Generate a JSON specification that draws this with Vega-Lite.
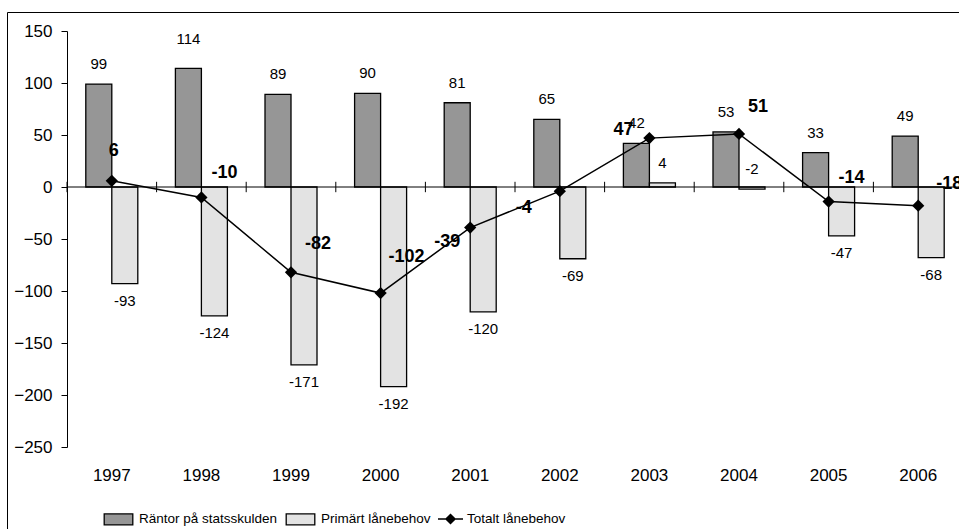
{
  "$schema": "https://vega.github.io/schema/vega-lite/v6.json",
  "width": 960,
  "height": 523,
  "autosize": {"type": "none"},
  "padding": {"left": 7, "top": 12, "right": -8, "bottom": -6},
  "background": "white",
  "config": {
    "view": {"stroke": "black", "strokeWidth": 1},
    "font": "Liberation Sans",
    "axis": {"labelFont": "Liberation Sans", "labelColor": "black", "domainColor": "black", "tickColor": "black", "grid": false, "title": null},
    "text": {"font": "Liberation Sans", "color": "black"}
  },
  "datasets": {
    "bars": [
      {"year": "1997", "series": "Räntor på statsskulden", "value": 99},
      {"year": "1997", "series": "Primärt lånebehov", "value": -93},
      {"year": "1998", "series": "Räntor på statsskulden", "value": 114},
      {"year": "1998", "series": "Primärt lånebehov", "value": -124},
      {"year": "1999", "series": "Räntor på statsskulden", "value": 89},
      {"year": "1999", "series": "Primärt lånebehov", "value": -171},
      {"year": "2000", "series": "Räntor på statsskulden", "value": 90},
      {"year": "2000", "series": "Primärt lånebehov", "value": -192},
      {"year": "2001", "series": "Räntor på statsskulden", "value": 81},
      {"year": "2001", "series": "Primärt lånebehov", "value": -120},
      {"year": "2002", "series": "Räntor på statsskulden", "value": 65},
      {"year": "2002", "series": "Primärt lånebehov", "value": -69},
      {"year": "2003", "series": "Räntor på statsskulden", "value": 42},
      {"year": "2003", "series": "Primärt lånebehov", "value": 4},
      {"year": "2004", "series": "Räntor på statsskulden", "value": 53},
      {"year": "2004", "series": "Primärt lånebehov", "value": -2},
      {"year": "2005", "series": "Räntor på statsskulden", "value": 33},
      {"year": "2005", "series": "Primärt lånebehov", "value": -47},
      {"year": "2006", "series": "Räntor på statsskulden", "value": 49},
      {"year": "2006", "series": "Primärt lånebehov", "value": -68}
    ],
    "total": [
      {"year": "1997", "series": "Totalt lånebehov", "total": 6},
      {"year": "1998", "series": "Totalt lånebehov", "total": -10},
      {"year": "1999", "series": "Totalt lånebehov", "total": -82},
      {"year": "2000", "series": "Totalt lånebehov", "total": -102},
      {"year": "2001", "series": "Totalt lånebehov", "total": -39},
      {"year": "2002", "series": "Totalt lånebehov", "total": -4},
      {"year": "2003", "series": "Totalt lånebehov", "total": 47},
      {"year": "2004", "series": "Totalt lånebehov", "total": 51},
      {"year": "2005", "series": "Totalt lånebehov", "total": -14},
      {"year": "2006", "series": "Totalt lånebehov", "total": -18}
    ]
  },
  "layer": [
    {
      "data": {"name": "bars"},
      "mark": {"type": "bar", "stroke": "black", "strokeWidth": 1.3},
      "encoding": {
        "x": {
          "field": "year", "type": "nominal",
          "scale": {"range": [60, 956], "paddingInner": 0, "paddingOuter": 0},
          "axis": {"orient": "bottom", "offset": -68, "domain": false, "ticks": false, "labelPadding": 0, "labelAngle": 0, "labelFontSize": 17, "labelBaseline": "top"}
        },
        "xOffset": {
          "field": "series", "type": "nominal",
          "scale": {"domain": ["Räntor på statsskulden", "Primärt lånebehov"], "paddingInner": 0, "paddingOuter": 0.723}
        },
        "y": {
          "field": "value", "type": "quantitative",
          "scale": {"domain": [-250, 150], "range": [435, 19], "nice": false, "zero": false},
          "axis": {
            "orient": "left", "offset": -60, "values": [-250, -200, -150, -100, -50, 0, 50, 100, 150], "tickSize": 6, "labelFontSize": 17, "labelPadding": 9,
            "encode": {"ticks": {"update": {"x": {"value": 5}}}}
          }
        },
        "fill": {
          "field": "series", "type": "nominal",
          "scale": {"domain": ["Räntor på statsskulden", "Primärt lånebehov"], "range": ["#969696", "#e3e3e3"]},
          "legend": {
            "orient": "none", "legendX": 99.5, "legendY": 495, "direction": "horizontal", "title": null, "padding": 0,
            "symbolType": "M-1.3,-0.5H1.3V0.5H-1.3Z", "symbolSize": 484, "symbolStrokeColor": "black", "symbolStrokeWidth": 1.3,
            "labelFont": "Liberation Sans", "labelFontSize": 13.5, "labelLimit": 400, "labelColor": "black", "labelOffset": 8.5, "columnPadding": 6
          }
        }
      }
    },
    {
      "data": {"name": "total"},
      "mark": {"type": "rule", "color": "black", "strokeWidth": 1},
      "encoding": {
        "x": {"field": "year", "type": "nominal", "bandPosition": 0},
        "x2": {"field": "year", "bandPosition": 1},
        "y": {"datum": 0}
      }
    },
    {
      "data": {"name": "total"},
      "mark": {"type": "rule", "color": "black", "strokeWidth": 1},
      "encoding": {
        "x": {"field": "year", "type": "nominal", "bandPosition": 0},
        "y": {"datum": -5},
        "y2": {"datum": 5}
      }
    },
    {
      "data": {"name": "total"},
      "mark": {"type": "line", "strokeWidth": 1.5},
      "encoding": {
        "x": {"field": "year", "type": "nominal"},
        "y": {"field": "total", "type": "quantitative"},
        "stroke": {
          "field": "series", "type": "nominal",
          "scale": {"domain": ["Totalt lånebehov"], "range": ["black"]},
          "legend": {
            "orient": "none", "legendX": 432.5, "legendY": 496, "title": null, "padding": 0,
            "symbolType": "M-1.25,0H1.25M0,-0.45L0.45,0L0,0.45L-0.45,0Z", "symbolSize": 400, "symbolStrokeWidth": 1.5, "symbolFillColor": "black", "symbolStrokeColor": "black",
            "labelFont": "Liberation Sans", "labelFontSize": 13.5, "labelLimit": 400, "labelColor": "black", "labelOffset": 5.5
          }
        }
      }
    },
    {
      "data": {"name": "total"},
      "mark": {"type": "point", "shape": "diamond", "filled": true, "size": 150, "color": "black", "opacity": 1},
      "encoding": {
        "x": {"field": "year", "type": "nominal"},
        "y": {"field": "total", "type": "quantitative"}
      }
    },
    {
      "data": {"name": "bars"},
      "transform": [{"filter": "datum.value >= -5 && datum.value != 114"}],
      "mark": {"type": "text", "fontSize": 15, "baseline": "middle", "dy": -20},
      "encoding": {
        "x": {"field": "year", "type": "nominal"},
        "xOffset": {"field": "series", "type": "nominal"},
        "y": {"field": "value", "type": "quantitative"},
        "text": {"field": "value"}
      }
    },
    {
      "data": {"name": "bars"},
      "transform": [{"filter": "datum.value == 114"}],
      "mark": {"type": "text", "fontSize": 15, "baseline": "middle", "dy": -29},
      "encoding": {
        "x": {"field": "year", "type": "nominal"},
        "xOffset": {"field": "series", "type": "nominal"},
        "y": {"field": "value", "type": "quantitative"},
        "text": {"field": "value"}
      }
    },
    {
      "data": {"name": "bars"},
      "transform": [{"filter": "datum.value < -5"}],
      "mark": {"type": "text", "fontSize": 15, "baseline": "middle", "dy": 17},
      "encoding": {
        "x": {"field": "year", "type": "nominal"},
        "xOffset": {"field": "series", "type": "nominal"},
        "y": {"field": "value", "type": "quantitative"},
        "text": {"field": "value"}
      }
    },
    {
      "data": {"name": "total"},
      "transform": [{"filter": "datum.year == '1997'"}],
      "mark": {"type": "text", "fontSize": 18, "fontWeight": "bold", "baseline": "middle", "dx": 2, "dy": -30},
      "encoding": {
        "x": {"field": "year", "type": "nominal"},
        "y": {"field": "total", "type": "quantitative"},
        "text": {"field": "total"}
      }
    },
    {
      "data": {"name": "total"},
      "transform": [{"filter": "datum.year == '1998' || datum.year == '2005'"}],
      "mark": {"type": "text", "fontSize": 18, "fontWeight": "bold", "baseline": "middle", "dx": 23, "dy": -24},
      "encoding": {
        "x": {"field": "year", "type": "nominal"},
        "y": {"field": "total", "type": "quantitative"},
        "text": {"field": "total"}
      }
    },
    {
      "data": {"name": "total"},
      "transform": [{"filter": "datum.year == '1999'"}],
      "mark": {"type": "text", "fontSize": 18, "fontWeight": "bold", "baseline": "middle", "dx": 27, "dy": -28},
      "encoding": {
        "x": {"field": "year", "type": "nominal"},
        "y": {"field": "total", "type": "quantitative"},
        "text": {"field": "total"}
      }
    },
    {
      "data": {"name": "total"},
      "transform": [{"filter": "datum.year == '2000'"}],
      "mark": {"type": "text", "fontSize": 18, "fontWeight": "bold", "baseline": "middle", "dx": 26, "dy": -36},
      "encoding": {
        "x": {"field": "year", "type": "nominal"},
        "y": {"field": "total", "type": "quantitative"},
        "text": {"field": "total"}
      }
    },
    {
      "data": {"name": "total"},
      "transform": [{"filter": "datum.year == '2001'"}],
      "mark": {"type": "text", "fontSize": 18, "fontWeight": "bold", "baseline": "middle", "dx": -23, "dy": 14},
      "encoding": {
        "x": {"field": "year", "type": "nominal"},
        "y": {"field": "total", "type": "quantitative"},
        "text": {"field": "total"}
      }
    },
    {
      "data": {"name": "total"},
      "transform": [{"filter": "datum.year == '2002'"}],
      "mark": {"type": "text", "fontSize": 18, "fontWeight": "bold", "baseline": "middle", "dx": -36, "dy": 17},
      "encoding": {
        "x": {"field": "year", "type": "nominal"},
        "y": {"field": "total", "type": "quantitative"},
        "text": {"field": "total"}
      }
    },
    {
      "data": {"name": "total"},
      "transform": [{"filter": "datum.year == '2003'"}],
      "mark": {"type": "text", "fontSize": 18, "fontWeight": "bold", "baseline": "middle", "dx": -26, "dy": -8},
      "encoding": {
        "x": {"field": "year", "type": "nominal"},
        "y": {"field": "total", "type": "quantitative"},
        "text": {"field": "total"}
      }
    },
    {
      "data": {"name": "total"},
      "transform": [{"filter": "datum.year == '2004'"}],
      "mark": {"type": "text", "fontSize": 18, "fontWeight": "bold", "baseline": "middle", "dx": 19, "dy": -27},
      "encoding": {
        "x": {"field": "year", "type": "nominal"},
        "y": {"field": "total", "type": "quantitative"},
        "text": {"field": "total"}
      }
    },
    {
      "data": {"name": "total"},
      "transform": [{"filter": "datum.year == '2006'"}],
      "mark": {"type": "text", "fontSize": 18, "fontWeight": "bold", "baseline": "middle", "dx": 31, "dy": -22},
      "encoding": {
        "x": {"field": "year", "type": "nominal"},
        "y": {"field": "total", "type": "quantitative"},
        "text": {"field": "total"}
      }
    }
  ]
}
